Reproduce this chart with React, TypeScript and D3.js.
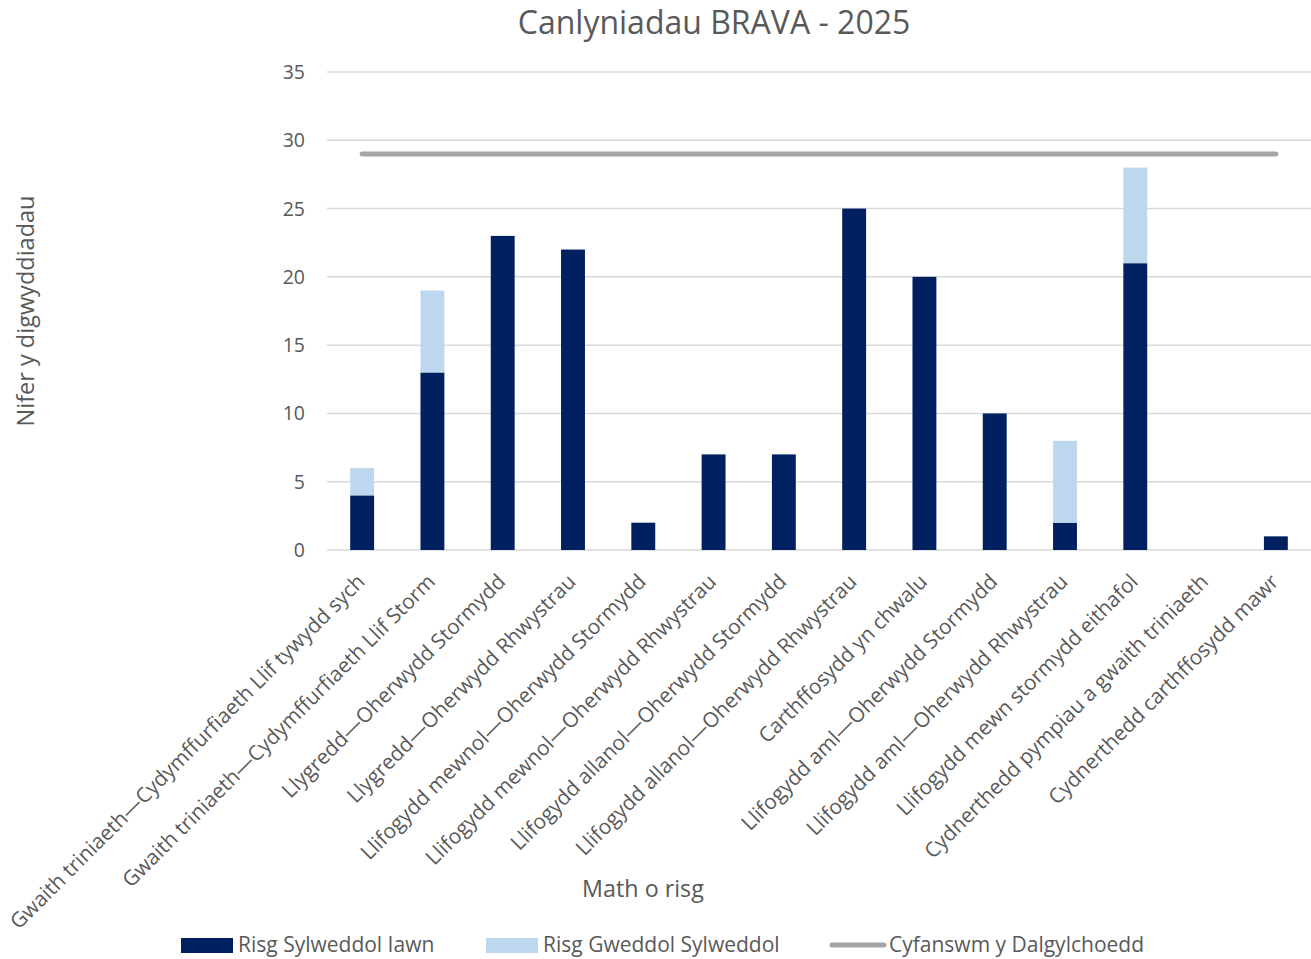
import React from 'react';
import * as d3 from 'd3';

// chart data
const categories = [
  'Gwaith triniaeth\u2014Cydymffurfiaeth Llif tywydd sych',
  'Gwaith triniaeth\u2014Cydymffurfiaeth Llif Storm',
  'Llygredd\u2014Oherwydd Stormydd',
  'Llygredd\u2014Oherwydd Rhwystrau',
  'Llifogydd mewnol\u2014Oherwydd Stormydd',
  'Llifogydd mewnol\u2014Oherwydd Rhwystrau',
  'Llifogydd allanol\u2014Oherwydd Stormydd',
  'Llifogydd allanol\u2014Oherwydd Rhwystrau',
  'Carthffosydd yn chwalu',
  'Llifogydd aml\u2014Oherwydd Stormydd',
  'Llifogydd aml\u2014Oherwydd Rhwystrau',
  'Llifogydd mewn stormydd eithafol',
  'Cydnerthedd pympiau a gwaith triniaeth',
  'Cydnerthedd carthffosydd mawr',
];
const veryHigh = [4, 13, 23, 22, 2, 7, 7, 25, 20, 10, 2, 21, 0, 1];
const moderate = [2, 6, 0, 0, 0, 0, 0, 0, 0, 0, 6, 7, 0, 0];
const totalCatchments = 29;
const yTicks = [0, 5, 10, 15, 20, 25, 30, 35];

const seriesNames = ['Risg Sylweddol Iawn', 'Risg Gweddol Sylweddol', 'Cyfanswm y Dalgylchoedd'];
const colors = ['#002060', '#BDD7EE', '#A5A5A5'];

const width = 1311;
const height = 959;
const font = '"Open Sans", Lato, sans-serif';
const textColor = '#595959';

export default function App() {
  const x = d3.scaleBand<number>()
    .domain(d3.range(categories.length))
    .range([327, 1311])
    .paddingInner(0.66)
    .paddingOuter(0.33);
  const y = d3.scaleLinear().domain([0, 35]).range([550, 72]);
  const cx = (i: number) => (x(i) as number) + x.bandwidth() / 2;

  const totalLine = d3.line<number>()
    .x(i => cx(i))
    .y(() => y(totalCatchments));

  return (
    <svg width={width} height={height} style={{ position: 'absolute', left: 0, top: 0 }} fontFamily={font}>
      <rect width={width} height={height} fill="#fff" />
      <text x={714} y={34} textAnchor="middle" fontSize={32} fill={textColor}>Canlyniadau BRAVA - 2025</text>

      {/* gridlines and y tick labels */}
      {yTicks.map(t => (
        <g key={t}>
          <line x1={327} x2={1311} y1={y(t)} y2={y(t)} stroke="#D9D9D9" strokeWidth={1.5} />
          <text x={305} y={y(t) + 7} textAnchor="end" fontSize={19.5} fill={textColor}>{t}</text>
        </g>
      ))}

      {/* stacked bars */}
      {categories.map((c, i) => (
        <g key={c}>
          {veryHigh[i] > 0 && (
            <rect x={x(i)} width={x.bandwidth()} y={y(veryHigh[i])} height={y(0) - y(veryHigh[i])} fill={colors[0]} />
          )}
          {moderate[i] > 0 && (
            <rect x={x(i)} width={x.bandwidth()} y={y(veryHigh[i] + moderate[i])}
              height={y(veryHigh[i]) - y(veryHigh[i] + moderate[i])} fill={colors[1]} />
          )}
        </g>
      ))}

      {/* total catchments line */}
      <path d={totalLine(d3.range(categories.length)) || ''} fill="none" stroke={colors[2]} strokeWidth={5} strokeLinecap="round" />

      {/* category labels */}
      {categories.map((c, i) => (
        <text key={c} transform={`translate(${cx(i) + 4},${583}) rotate(-45)`} textAnchor="end" fontSize={20.8} fill={textColor}>{c}</text>
      ))}

      {/* axis titles */}
      <text transform="translate(34,311) rotate(-90)" textAnchor="middle" fontSize={23.5} fill={textColor}>Nifer y digwyddiadau</text>
      <text x={643} y={897} textAnchor="middle" fontSize={23.3} fill={textColor}>Math o risg</text>

      {/* legend */}
      <rect x={181} y={938} width={52} height={15} fill={colors[0]} />
      <text x={238} y={952} fontSize={21} fill={textColor}>{seriesNames[0]}</text>
      <rect x={486} y={938} width={52} height={15} fill={colors[1]} />
      <text x={543} y={952} fontSize={21} fill={textColor}>{seriesNames[1]}</text>
      <line x1={832} x2={884} y1={945} y2={945} stroke={colors[2]} strokeWidth={5} strokeLinecap="round" />
      <text x={889} y={952} fontSize={21} fill={textColor}>{seriesNames[2]}</text>
    </svg>
  );
}
